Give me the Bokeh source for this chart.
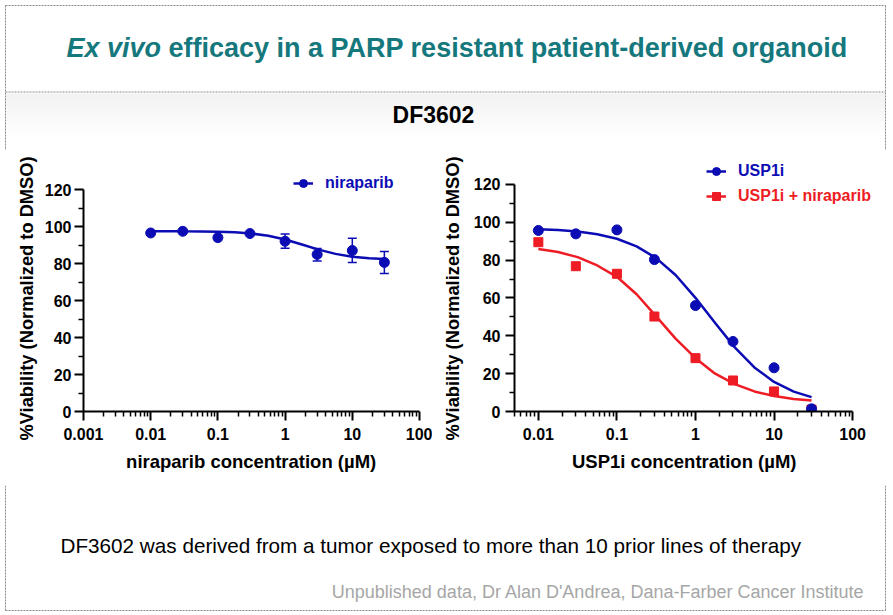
import numpy as np
from bokeh.plotting import figure
from bokeh.models import (Range1d, FixedTicker, CustomJSTickFormatter, Legend, LegendItem,
                          Whisker, TeeHead, ColumnDataSource, Title)
from bokeh.layouts import column, row
from bokeh.embed import file_html
from bokeh.resources import INLINE
from bokeh.core.properties import value

FONT = "Liberation Sans"
BLUE = "#0c0cb4"
RED = "#ee1c24"
TEAL = "#15787d"

# ---------------- data ----------------
conc = [0.01, 0.03, 0.1, 0.3, 1, 3, 10, 30]
nira_mean = [96.5, 97.4, 94.0, 96.2, 92.0, 84.9, 87.0, 80.6]
err_conc = [1, 3, 10, 30]
nira_err_lo = [88.3, 81.4, 80.6, 74.6]
nira_err_hi = [96.0, 88.1, 93.6, 86.5]
usp1i = [95.7, 93.9, 96.0, 80.3, 56.0, 37.0, 23.1, 1.4]
combo = [89.5, 76.8, 72.8, 50.2, 28.2, 16.4, 10.6, 1.0]

fit_x = [0.01, 0.0178, 0.0316, 0.0562, 0.1, 0.178, 0.316, 0.562, 1, 1.78, 3.16, 5.62, 10, 17.8, 30]
nira_fit = [97.5, 97.5, 97.4, 97.35, 97.2, 96.9, 96.2, 95.0, 93.0, 90.3, 87.5, 85.2, 83.7, 82.85, 82.45]
usp1i_fit = [96.4, 95.9, 95.1, 93.7, 91.3, 87.3, 81.1, 72.0, 60.1, 46.8, 33.9, 23.3, 15.6, 10.5, 7.6]
combo_fit = [85.9, 84.3, 81.6, 77.2, 71.2, 62.0, 50.3, 38.4, 28.2, 20.0, 14.5, 10.6, 8.2, 6.6, 5.8]

left_x_ticks = [0.001, 0.01, 0.1, 1, 10, 100]
right_x_ticks = [0.01, 0.1, 1, 10, 100]
y_ticks = [0, 20, 40, 60, 80, 100, 120]
y_minor = [10, 30, 50, 70, 90, 110]

title_italic = "Ex vivo"
title_rest = "efficacy in a PARP resistant patient-derived organoid"
subtitle = "DF3602"
y_label = "%Viability (Normalized to DMSO)"
left_x_label = "niraparib concentration (µM)"
right_x_label = "USP1i concentration (µM)"
footer_main = "DF3602 was derived from a tumor exposed to more than 10 prior lines of therapy"
footer_credit = "Unpublished data, Dr Alan D'Andrea, Dana-Farber Cancer Institute"

W = 893
DOT = dict(line_color="#8a8a8a", line_width=1, line_dash="2 1")


def blank(height, y0, y1):
    p = figure(width=W, height=height, x_range=Range1d(0, W), y_range=Range1d(y1, y0),
               output_backend="svg", toolbar_location=None, min_border=0)
    p.axis.visible = False
    p.grid.visible = False
    p.outline_line_color = None
    p.background_fill_color = "white"
    p.border_fill_color = "white"
    return p


# ---------------- header ----------------
hdr = blank(150, 0, 150)
for i in range(14):
    hdr.quad(left=5, right=885, top=93 + i * 3, bottom=96 + i * 3,
             fill_color="#e8e8e8", fill_alpha=0.55 * (1 - i / 14), line_color=None)
hdr.segment(x0=[5, 5, 885, 5], y0=[5, 5, 5, 91.5], x1=[885, 5, 885, 885], y1=[5, 150, 150, 91.5], **DOT)
hdr.text(x=[66], y=[47], text=[title_italic], text_font=value(FONT), text_font_style="bold italic",
         text_font_size="27px", text_color=TEAL, text_baseline="middle", text_align="left")
hdr.text(x=[168], y=[47], text=[title_rest], text_font=value(FONT), text_font_style="bold",
         text_font_size="27px", text_color=TEAL, text_baseline="middle", text_align="left")
hdr.text(x=[433], y=[114], text=[subtitle], text_font=value(FONT), text_font_style="bold",
         text_font_size="23px", text_color="black", text_baseline="middle", text_align="center")


# ---------------- plots ----------------
def minor_list(e0, m0):
    out = []
    for e in range(e0, 2):
        for m in range(2, 10):
            if e == e0 and m < m0:
                continue
            out.append(m * 10.0 ** e)
    return out


def style_axes(p, xticks, xminor, xbounds, xlabel, xoff, ystand, xstand, ylab_standoff):
    fmt = CustomJSTickFormatter(code="return String(Number(tick.toPrecision(6)));")
    p.xaxis.ticker = FixedTicker(ticks=xticks, minor_ticks=xminor)
    p.xaxis.formatter = fmt
    p.xaxis.bounds = xbounds
    p.yaxis.ticker = FixedTicker(ticks=y_ticks, minor_ticks=y_minor)
    p.yaxis.bounds = (0, 120)
    for ax in (p.xaxis[0], p.yaxis[0]):
        ax.axis_line_width = 2
        ax.axis_line_color = "black"
        ax.major_tick_line_width = 2
        ax.minor_tick_line_width = 1.5
        ax.major_tick_out = 9
        ax.major_tick_in = 0
        ax.minor_tick_out = 5
        ax.minor_tick_in = 0
        ax.major_label_text_font = FONT
        ax.major_label_text_font_style = "bold"
        ax.major_label_text_font_size = "16px"
        ax.major_label_text_color = "black"
    p.yaxis.major_label_standoff = ystand
    p.xaxis.major_label_standoff = xstand
    # axis titles as Titles so that their position does not depend on the frame extent
    p.add_layout(Title(text=y_label, align="left", offset=-29, standoff=ylab_standoff,
                       text_font=FONT, text_font_style="bold", text_font_size="18.3px",
                       text_color="black"), "left")
    p.add_layout(Title(text=xlabel, align="left", offset=xoff, standoff=13,
                       text_font=FONT, text_font_style="bold", text_font_size="18.5px",
                       text_color="black"), "below")
    p.grid.visible = False
    p.outline_line_color = None
    p.border_fill_color = "white"


def add_legend(p, label, rends, color, x, y):
    lg = Legend(items=[LegendItem(label=label, renderers=rends)], location=(x, y),
                background_fill_alpha=0, border_line_alpha=0, padding=0, margin=0, spacing=0,
                glyph_width=20, glyph_height=20, label_height=20, label_standoff=12,
                label_text_font=FONT, label_text_font_style="bold", label_text_font_size="16px",
                label_text_color=color, label_text_baseline="middle")
    p.add_layout(lg)


TOP, BOT = 8, 74
W1 = 432
left = figure(width=W1, height=335, x_axis_type="log", x_range=Range1d(0.001, 100),
              y_range=Range1d(0, 136.76), output_backend="svg", toolbar_location=None,
              min_border_left=83, min_border_right=W1 - 83 - 336, min_border_top=TOP,
              min_border_bottom=BOT)
style_axes(left, left_x_ticks, minor_list(-3, 2), (0.001, 100), left_x_label, 42.6, 3, 7, 9)
src_err = ColumnDataSource(dict(x=err_conc, lo=nira_err_lo, hi=nira_err_hi))
left.add_layout(Whisker(source=src_err, base="x", lower="lo", upper="hi", line_color=BLUE,
                        line_width=1.5, level="glyph",
                        upper_head=TeeHead(size=9, line_color=BLUE, line_width=1.5),
                        lower_head=TeeHead(size=9, line_color=BLUE, line_width=1.5)))
lf = left.line(fit_x, nira_fit, line_color=BLUE, line_width=2.5)
ls = left.scatter(conc, nira_mean, marker="circle", size=10, fill_color=BLUE, line_color=BLUE)
add_legend(left, "niraparib", [lf, ls], BLUE, 210, 218)

W2 = W - W1
rl = 512 - W1
# frame extends 22 px right of the 100 tick so the legend is not clipped
right = figure(width=W2, height=335, x_axis_type="log", x_range=Range1d(0.00497, 10 ** (2 + 22 / 79)),
               y_range=Range1d(0, 133.74), output_backend="svg", toolbar_location=None,
               min_border_left=rl, min_border_right=W2 - rl - 362, min_border_top=TOP,
               min_border_bottom=BOT)
style_axes(right, right_x_ticks, minor_list(-3, 5), (0.00497, 100), right_x_label, 57.5, 5, 7, 15)
rf1 = right.line(fit_x, usp1i_fit, line_color=BLUE, line_width=2.5)
rf2 = right.line(fit_x, combo_fit, line_color=RED, line_width=2.5)
rs2 = right.scatter(conc, combo, marker="square", size=9, fill_color=RED, line_color=RED)
rs1 = right.scatter(conc, usp1i, marker="circle", size=10, fill_color=BLUE, line_color=BLUE)
add_legend(right, "USP1i", [rf1, rs1], BLUE, 192, 230)
add_legend(right, "USP1i + niraparib", [rf2, rs2], RED, 192, 205)

# ---------------- footer ----------------
ftr = blank(130, 485, 615)
ftr.segment(x0=[5, 885, 5], y0=[485, 485, 610], x1=[5, 885, 885], y1=[610, 610, 610], **DOT)
ftr.text(x=[60], y=[545], text=[footer_main], text_font=value(FONT), text_font_size="20.7px",
         text_color="black", text_baseline="middle", text_align="left")
ftr.text(x=[864], y=[591], text=[footer_credit], text_font=value(FONT), text_font_size="18px",
         text_color="#a6a6a6", text_baseline="middle", text_align="right")

page = column(hdr, row(left, right), ftr)
open("out.html", "w").write(file_html(page, INLINE))
